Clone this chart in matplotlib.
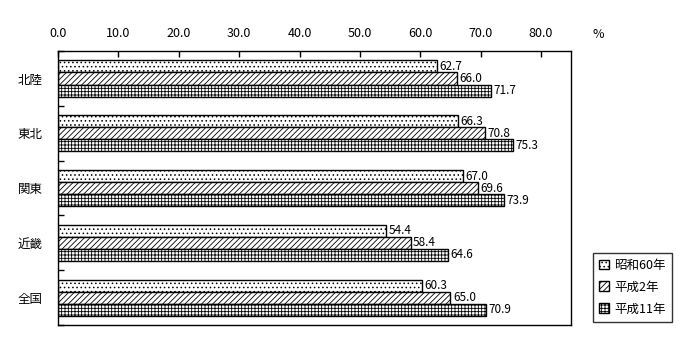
import numpy as np
import matplotlib.pyplot as plt
from matplotlib.ticker import MultipleLocator

plt.rcParams['font.family'] = ['Noto Sans CJK JP', 'DejaVu Sans']
plt.rcParams['hatch.linewidth'] = 0.6

regions = ['北陸', '東北', '関東', '近畿', '全国']
series = ['昭和60年', '平成2年', '平成11年']
s60 = [62.7, 66.3, 67.0, 54.4, 60.3]
h2 = [66.0, 70.8, 69.6, 58.4, 65.0]
h11 = [71.7, 75.3, 73.9, 64.6, 70.9]

hatches = ['....', '//////', '+++++']
fig = plt.figure(figsize=(7, 3.6), dpi=100)
ax = fig.add_axes([0.083, 0.097, 0.733, 0.761])

y = np.arange(len(regions))
bh = 0.22
for i, (vals, h) in enumerate(zip([s60, h2, h11], hatches)):
    pos = y + (i - 1) * bh
    ax.barh(pos, vals, height=bh, color='white', edgecolor='black',
            hatch=h, linewidth=1.0, label=series[i])
    for p, v in zip(pos, vals):
        ax.text(v + 0.4, p, f'{v:.1f}', va='center', ha='left', fontsize=8.5)

ax.set_xlim(0, 85)
ax.set_ylim(len(regions) - 0.5, -0.5)
ax.xaxis.tick_top()
ax.set_xticks(np.arange(0, 81, 10))
ax.set_xticklabels([f'{t:.1f}' for t in np.arange(0, 81, 10)], fontsize=9)
ax.tick_params(axis='x', direction='in', length=4, pad=8, width=1)
ax.set_yticks(y)
ax.set_yticklabels(regions, fontsize=9)
ax.tick_params(axis='y', which='major', length=0, pad=11)
ax.yaxis.set_minor_locator(MultipleLocator(1, offset=0.5))
ax.tick_params(axis='y', which='minor', direction='in', length=4, width=1)
for s in ax.spines.values():
    s.set_linewidth(1.0)
fig.text(0.855, 0.905, '%', fontsize=9, ha='center', va='center')

leg = ax.legend(loc='lower left', bbox_to_anchor=(1.03, -0.01), fontsize=9,
                frameon=True, fancybox=False, edgecolor='black',
                handlelength=0.8, handleheight=0.8, handletextpad=0.4,
                labelspacing=0.7, borderpad=0.5)
leg.get_frame().set_linewidth(1.0)

fig.savefig('out.png')
